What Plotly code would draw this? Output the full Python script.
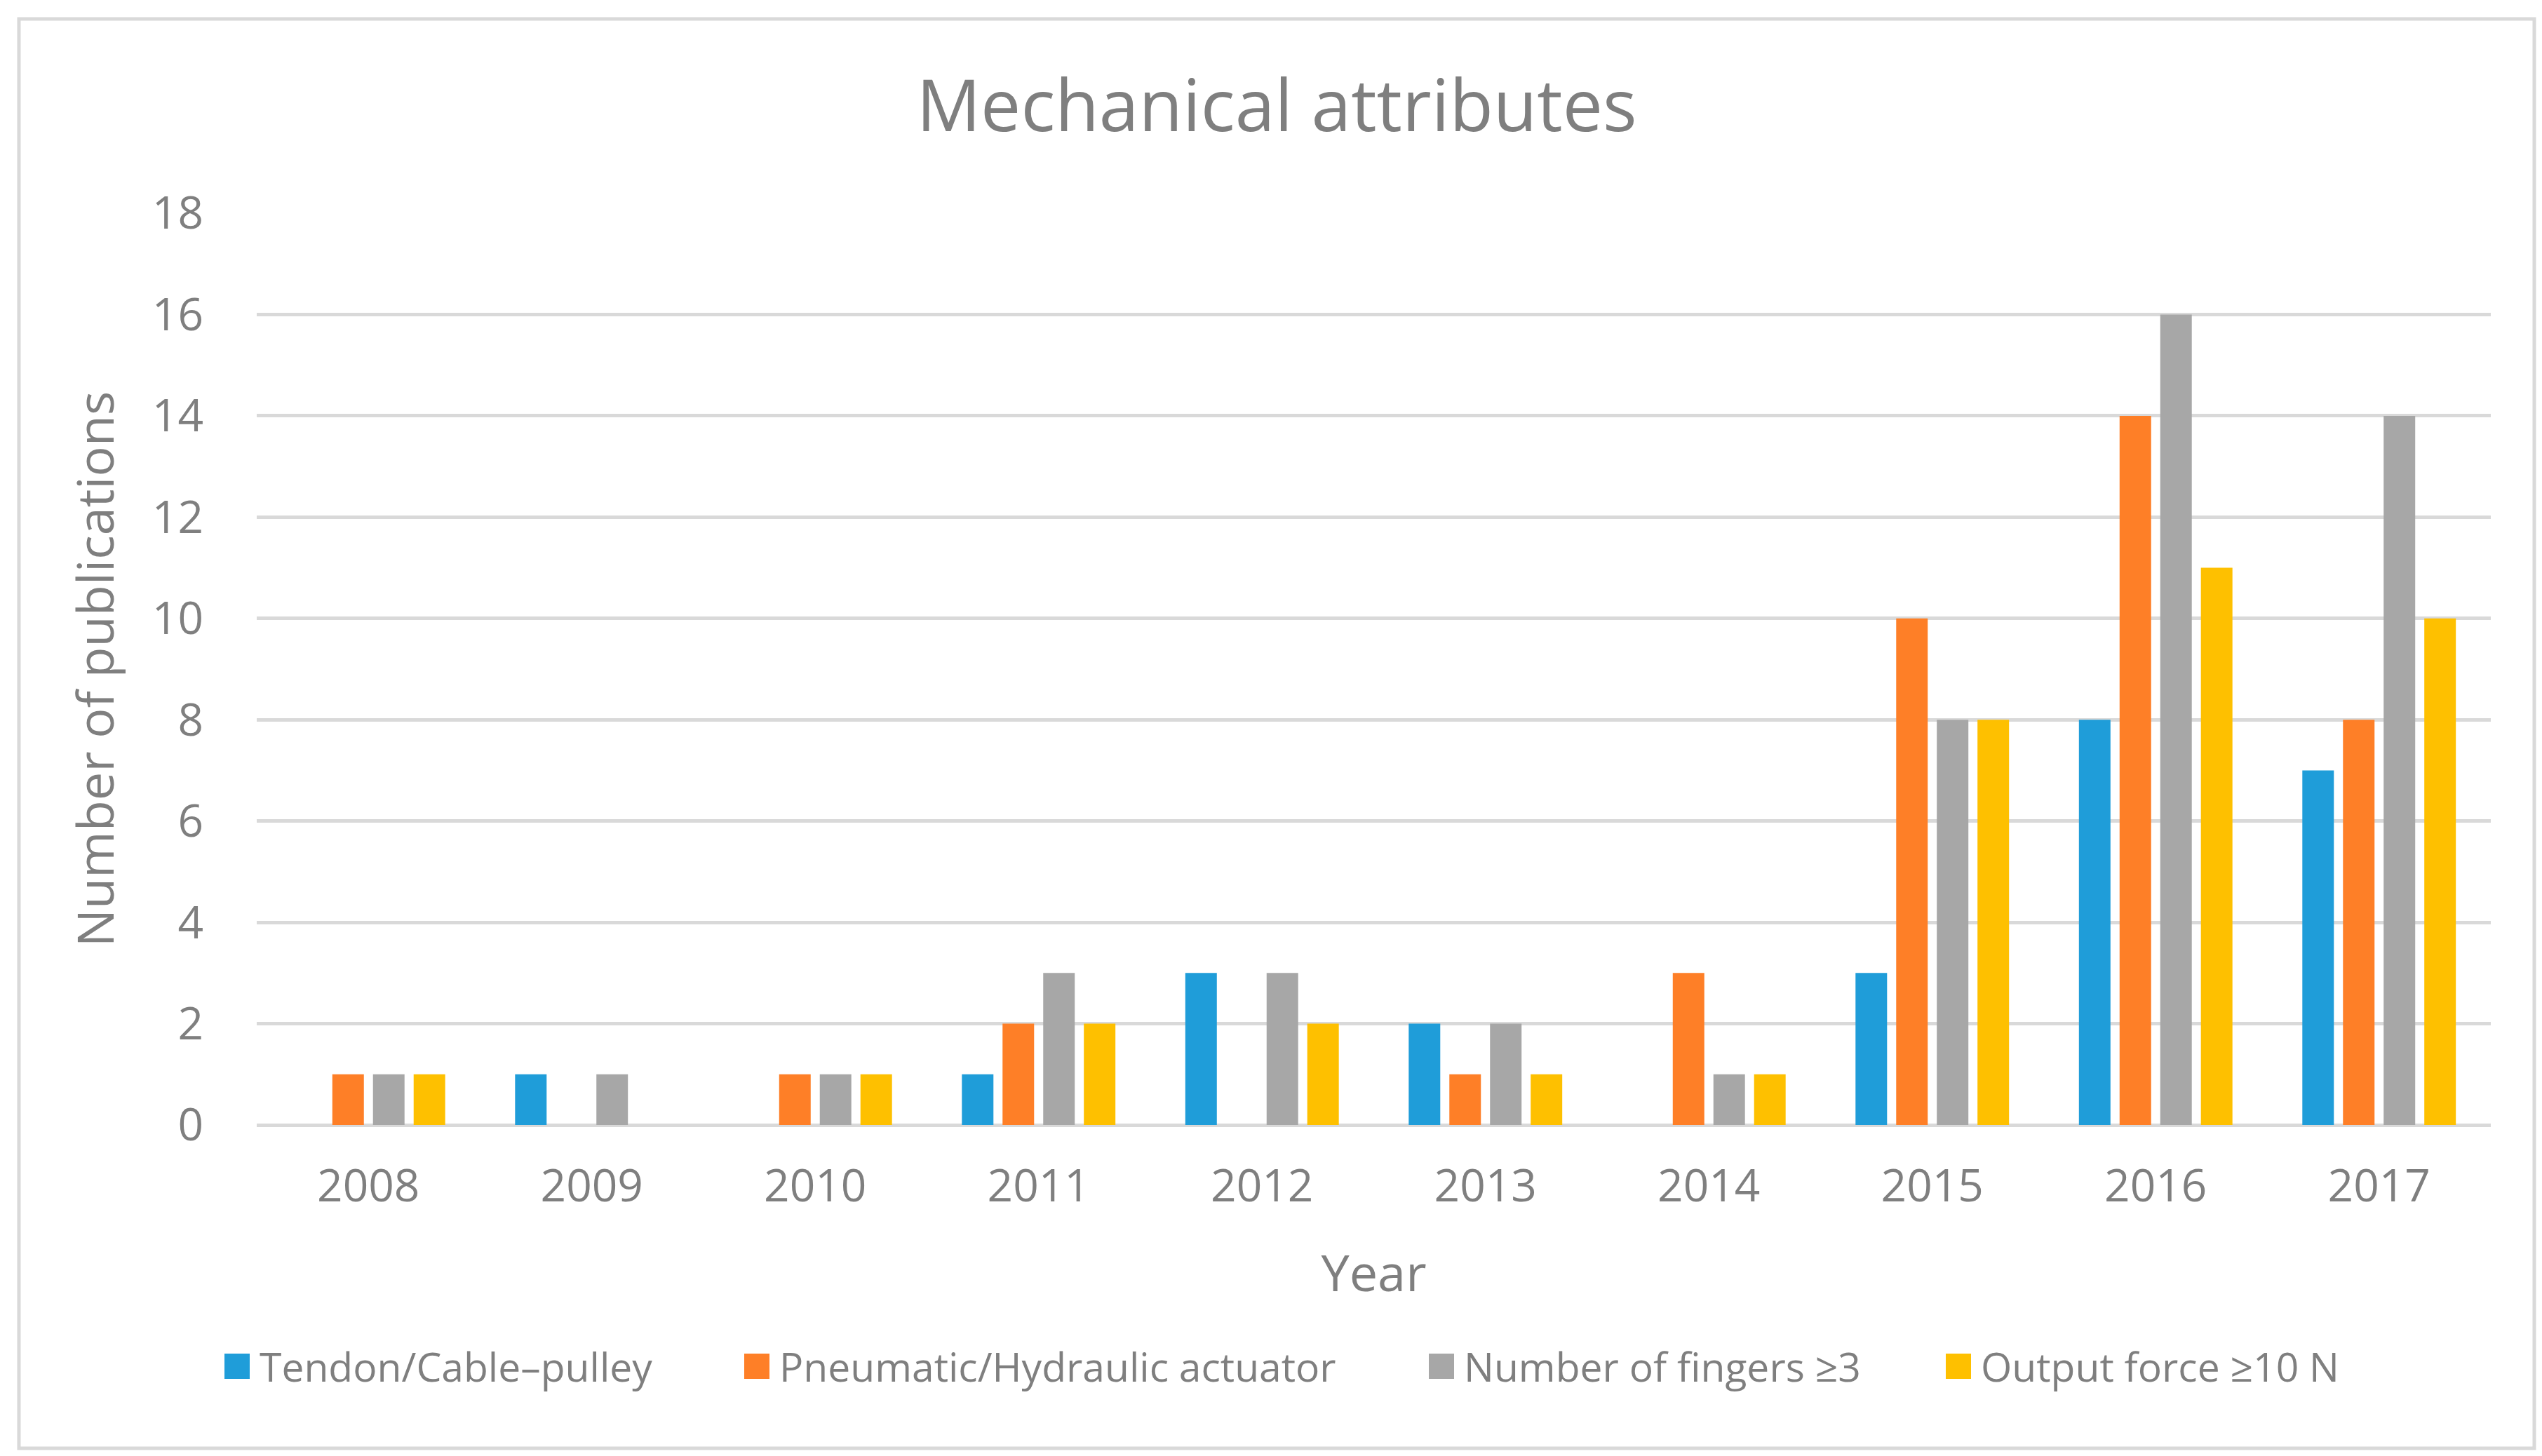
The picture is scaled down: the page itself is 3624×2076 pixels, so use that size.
import plotly.graph_objects as go

years = ["2008", "2009", "2010", "2011", "2012", "2013", "2014", "2015", "2016", "2017"]
tendon = [0, 1, 0, 1, 3, 2, 0, 3, 8, 7]
pneumatic = [1, 0, 1, 2, 0, 1, 3, 10, 14, 8]
fingers = [1, 1, 1, 3, 3, 2, 1, 8, 16, 14]
force = [1, 0, 1, 2, 2, 1, 1, 8, 11, 10]

names = ["Tendon/Cable\u2013pulley", "Pneumatic/Hydraulic actuator",
         "Number of fingers \u22653", "Output force \u226510 N"]
values = [tendon, pneumatic, fingers, force]
colors = ["#1f9dd9", "#fe7f27", "#a7a7a7", "#fec000"]

TXT = "#7f7f7f"
GRID = "#d9d9d9"
FONT = "Open Sans"

W, H = 3624, 2076
ML, MR, MT, MB = 358, 81, 296, 480
PW, PH = W - ML - MR, H - MT - MB


def px_x(px):
    return (px - ML) / PW


def px_y(py):
    return (H - MB - py) / PH


fig = go.Figure()

for name, vals, color in zip(names, values, colors):
    fig.add_trace(go.Bar(
        x=years, y=vals, name=name,
        marker=dict(color=color, line=dict(width=0)),
        showlegend=False,
    ))

# legend drawn by hand: Excel-style big square swatches + labels in one row
swatch_left = [312, 1053, 2029, 2766]
sw, leg_cy = 36, 1940
shapes = []
annotations = []
for left, name, color in zip(swatch_left, names, colors):
    shapes.append(dict(type="rect", xref="paper", yref="paper",
                       x0=px_x(left), x1=px_x(left + sw),
                       y0=px_y(leg_cy + sw / 2), y1=px_y(leg_cy - sw / 2),
                       fillcolor=color, line=dict(width=0)))
    annotations.append(dict(text=name, xref="paper", yref="paper",
                            x=px_x(left + sw + 12), y=px_y(leg_cy),
                            xanchor="left", yanchor="middle", showarrow=False,
                            font=dict(family=FONT, size=57, color=TXT)))

# outer chart border
shapes.append(dict(type="rect", xref="paper", yref="paper",
                   x0=px_x(19), x1=px_x(3605), y0=px_y(2057), y1=px_y(19),
                   line=dict(color=GRID, width=5), fillcolor="rgba(0,0,0,0)",
                   layer="below"))

fig.update_layout(
    width=W, height=H,
    barmode="group", bargap=0.272, bargroupgap=0.224,
    plot_bgcolor="white", paper_bgcolor="white",
    font=dict(family=FONT, color=TXT),
    margin=dict(l=ML, r=MR, t=MT, b=MB),
    showlegend=False,
    title=dict(text="Mechanical attributes", x=0.5, xanchor="center",
               y=0.931, yanchor="middle",
               font=dict(family=FONT, size=102, color=TXT)),
    xaxis=dict(
        title=dict(text="Year", font=dict(size=72, color=TXT), standoff=59),
        tickfont=dict(size=64, color=TXT), showgrid=False, showline=False,
        ticks="", ticklabelstandoff=44,
    ),
    yaxis=dict(
        title=dict(text="Number of publications", font=dict(size=72, color=TXT), standoff=30),
        range=[0, 18], dtick=2, tickfont=dict(size=64, color=TXT),
        showgrid=True, gridcolor=GRID, gridwidth=5,
        zeroline=True, zerolinecolor=GRID, zerolinewidth=5,
        ticks="", ticklabelstandoff=75, showline=False,
    ),
    shapes=shapes,
    annotations=annotations,
)

fig.write_html("out.html")
